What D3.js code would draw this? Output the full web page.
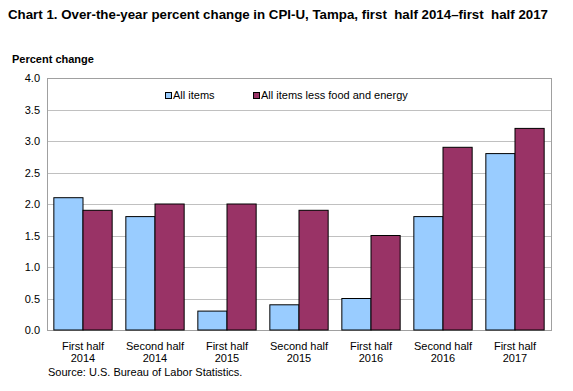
<!DOCTYPE html>
<html lang="en">
<head>
<meta charset="UTF-8">
<title>Chart 1</title>
<style>
  body { margin: 0; background: #fff; font-family: "Liberation Sans", Arial, sans-serif; }
  .axis text { font-size: 11px; fill: #000; font-family: "Liberation Sans", Arial, sans-serif; }
  .grid line { stroke: #c0c0c0; }
</style>
</head>
<body>
<div class="chart"></div>
<script src="https://d3js.org/d3.v7.min.js"></script>
<script>
var categories = [["First half", "2014"], ["Second half", "2014"], ["First half", "2015"],
    ["Second half", "2015"], ["First half", "2016"], ["Second half", "2016"], ["First half", "2017"]];
var allItems = [2.1, 1.8, 0.3, 0.4, 0.5, 1.8, 2.8];
var lessFoodEnergy = [1.9, 2.0, 2.0, 1.9, 1.5, 2.9, 3.2];
var seriesNames = ["All items", "All items less food and energy"];
var colors = ["#99ccff", "#993366"];
var yTicks = [0, 0.5, 1, 1.5, 2, 2.5, 3, 3.5, 4];

var W = 573, H = 391;
var margin = {top: 78, right: 22, bottom: 61, left: 47};
var w = W - margin.left - margin.right,
    h = H - margin.top - margin.bottom;

var svg = d3.select(".chart").append("svg")
    .attr("width", W)
    .attr("height", H);

svg.append("text")
    .attr("x", 8).attr("y", 19)
    .attr("font-size", "13px").attr("font-weight", "bold")
    .attr("textLength", 540)
    .attr("lengthAdjust", "spacingAndGlyphs")
    .text("Chart 1. Over-the-year percent change in CPI-U, Tampa, first\u00a0 half 2014\u2013first\u00a0 half 2017");

svg.append("text")
    .attr("x", 12).attr("y", 63)
    .attr("font-size", "11px").attr("font-weight", "bold")
    .text("Percent change");

svg.append("text")
    .attr("x", 48).attr("y", 376)
    .attr("font-size", "11px")
    .text("Source: U.S. Bureau of Labor Statistics.");

var g = svg.append("g")
    .attr("transform", "translate(" + margin.left + "," + margin.top + ")");

var x0 = d3.scaleBand()
    .domain(d3.range(categories.length))
    .range([0, w])
    .paddingInner(0.19)
    .paddingOuter(0.095);

var x1 = d3.scaleBand()
    .domain([0, 1])
    .range([0, x0.bandwidth()]);

var y = d3.scaleLinear()
    .domain([0, 4])
    .range([h, 0]);

// gridlines
g.append("g")
    .attr("class", "grid")
    .selectAll("line")
    .data(yTicks.slice(1))
    .enter().append("line")
    .attr("x1", 0).attr("x2", w)
    .attr("y1", function(d) { return Math.round(y(d)) + 0.5; })
    .attr("y2", function(d) { return Math.round(y(d)) + 0.5; });

// plot border
g.append("rect")
    .attr("x", 0.5).attr("y", 0.5)
    .attr("width", w).attr("height", h)
    .attr("fill", "none")
    .attr("stroke", "#a0a0a0");

var rows = categories.map(function(c, i) { return [allItems[i], lessFoodEnergy[i]]; });

var groups = g.selectAll(".grp")
    .data(rows)
    .enter().append("g")
    .attr("class", "grp")
    .attr("transform", function(d, i) { return "translate(" + x0(i) + ",0)"; });

groups.selectAll("rect")
    .data(function(d) { return d; })
    .enter().append("rect")
    .attr("x", function(d, j) { return x1(j); })
    .attr("y", function(d) { return y(d); })
    .attr("width", x1.bandwidth())
    .attr("height", function(d) { return h - y(d); })
    .attr("fill", function(d, j) { return colors[j]; })
    .attr("stroke", "#000")
    .attr("stroke-width", 1);

// y axis
var yaxis = d3.axisLeft(y)
    .tickValues(yTicks)
    .tickFormat(d3.format(".1f"))
    .tickSize(0)
    .tickPadding(7);

g.append("g")
    .attr("class", "axis")
    .call(yaxis)
    .call(function(s) { s.select(".domain").remove(); });

// x axis labels
var xlab = g.append("g").attr("class", "axis")
    .selectAll("text")
    .data(categories)
    .enter().append("text")
    .attr("text-anchor", "middle")
    .attr("x", function(d, i) { return x0(i) + x0.bandwidth() / 2; })
    .attr("y", h + 20);

xlab.append("tspan")
    .attr("x", function(d, i) { return x0(i) + x0.bandwidth() / 2; })
    .text(function(d) { return d[0]; });
xlab.append("tspan")
    .attr("x", function(d, i) { return x0(i) + x0.bandwidth() / 2; })
    .attr("dy", 12)
    .text(function(d) { return d[1]; });

// legend
var legendX = [165, 253];
var legend = svg.selectAll(".legend")
    .data(seriesNames)
    .enter().append("g")
    .attr("class", "legend")
    .attr("transform", function(d, i) { return "translate(" + legendX[i] + ",92)"; });

legend.append("rect")
    .attr("x", 0.5).attr("y", 0.5)
    .attr("width", 6).attr("height", 6)
    .attr("fill", function(d, i) { return colors[i]; })
    .attr("stroke", "#000");

legend.append("text")
    .attr("x", 8).attr("y", 7)
    .attr("font-size", "11px")
    .text(function(d) { return d; });
</script>
</body>
</html>
